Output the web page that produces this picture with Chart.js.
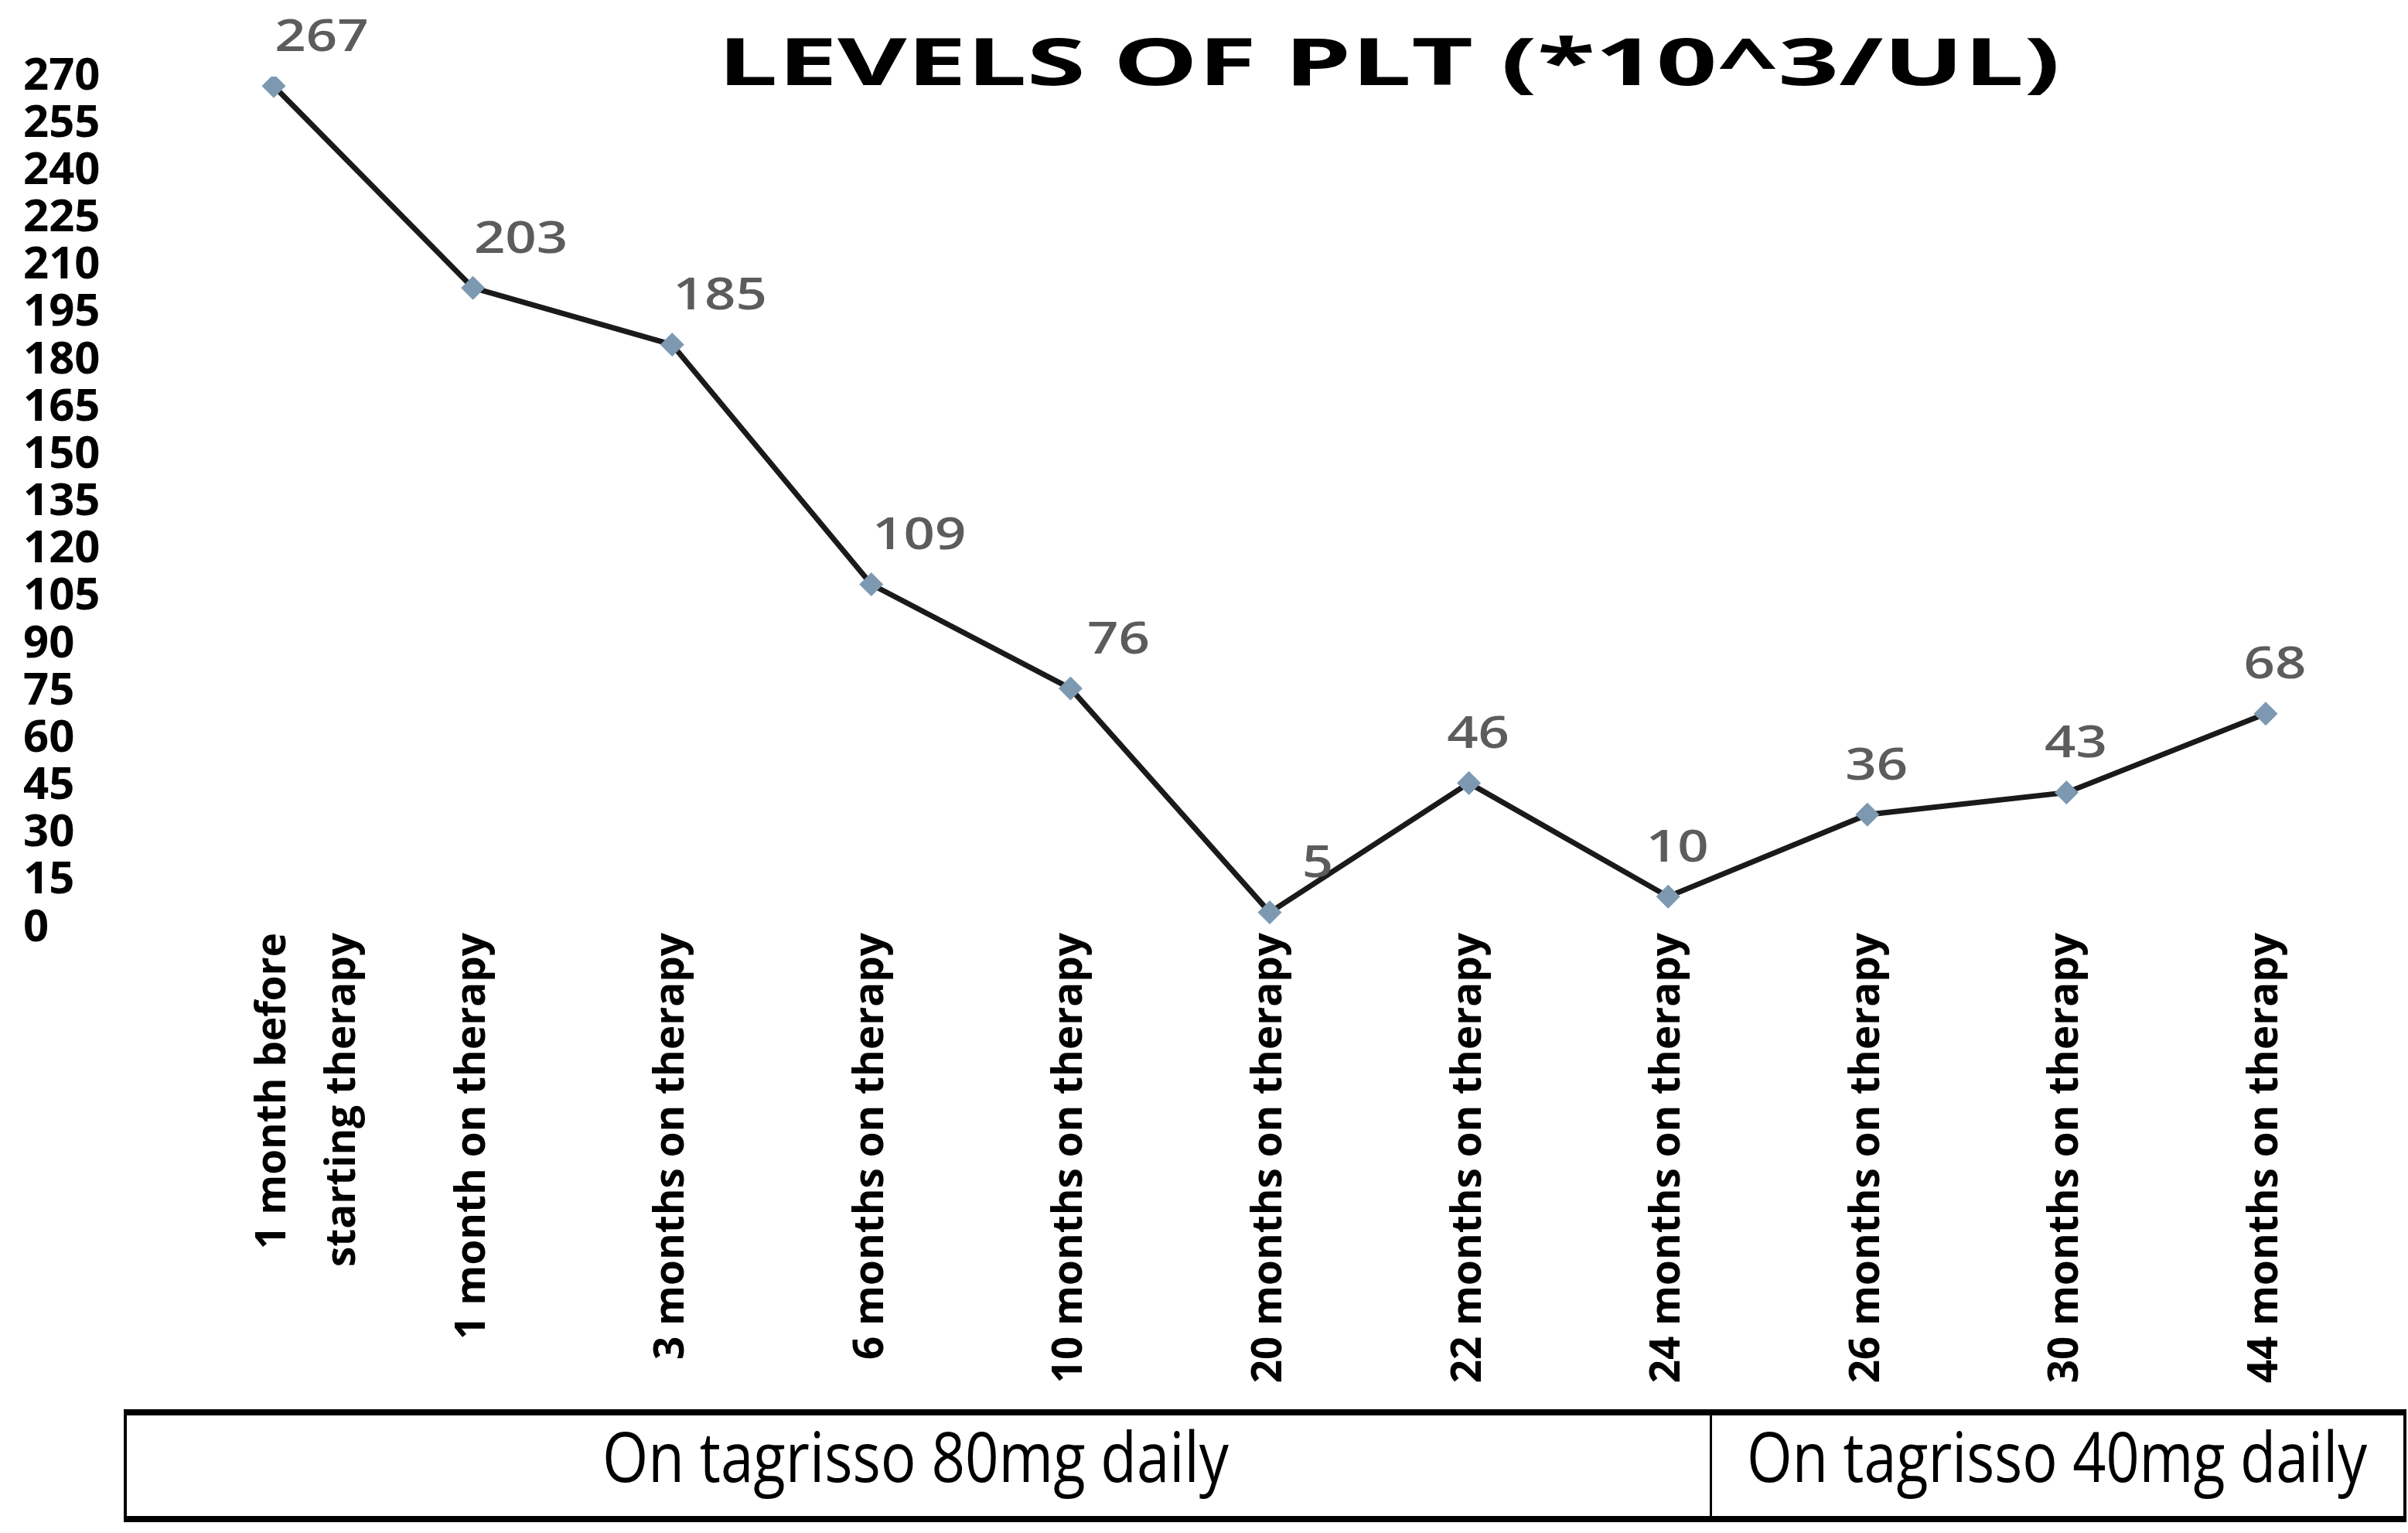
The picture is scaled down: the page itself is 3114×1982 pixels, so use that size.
<!DOCTYPE html>
<html>
<head>
<meta charset="utf-8">
<script src="https://cdn.jsdelivr.net/npm/chart.js@4.4.1/dist/chart.umd.min.js"></script>
<style>
html, body { margin: 0; padding: 0; background: #fff; }
</style>
</head>
<body>
<canvas id="pltChart" width="3114" height="1982"></canvas>
<script>
// values
var timepoints = [
  ["1 month before", "starting therapy"],
  "1 month on therapy",
  "3 months on therapy",
  "6 months on therapy",
  "10 months on therapy",
  "20 months on therapy",
  "22 months on therapy",
  "24 months on therapy",
  "26 months on therapy",
  "30 months on therapy",
  "44 months on therapy"
];
var pltValues = [267, 203, 185, 109, 76, 5, 46, 10, 36, 43, 68];
var yMin = 0;
var yMax = 270;
var yStep = 15;
var chartTitle = "LEVELS OF PLT (*10^3/UL)";
var phaseNames = ["On tagrisso 80mg daily", "On tagrisso 40mg daily"];

// draws text squeezed/stretched to a given width
function fitText(ctx, text, cx, cy, width) {
  var w = ctx.measureText(text).width;
  ctx.save();
  ctx.translate(cx, cy);
  ctx.scale(width / w, 1);
  ctx.fillText(text, 0, 0);
  ctx.restore();
}

var extras = {
  id: 'extras',
  afterDatasetsDraw: function(chart) {
    var ctx = chart.ctx;
    var meta = chart.getDatasetMeta(0);
    ctx.save();
    ctx.fillStyle = '#5c5c5c';
    ctx.font = '600 58px "Open Sans"';
    ctx.textAlign = 'center';
    ctx.textBaseline = 'middle';
    meta.data.forEach(function(pt, i) {
      var dx = i <= 5 ? 62 : 12;
      var txt = String(pltValues[i]);
      fitText(ctx, txt, pt.x + dx, pt.y - 62, ctx.measureText(txt).width * 1.22);
    });
    ctx.restore();
  },
  afterDraw: function(chart) {
    var ctx = chart.ctx;
    ctx.save();
    // title
    ctx.fillStyle = '#000';
    ctx.textAlign = 'center';
    ctx.textBaseline = 'middle';
    ctx.font = 'bold 84px "Open Sans"';
    fitText(ctx, chartTitle, 1796, 86, 1736);

    // phase box under the axis
    ctx.fillRect(160, 1822, 2952, 8);
    ctx.fillRect(160, 1960, 2952, 8);
    ctx.fillRect(160, 1822, 4, 146);
    ctx.fillRect(3108, 1822, 4, 146);
    ctx.fillRect(2211, 1822, 3, 146);
    ctx.font = '90px "Open Sans"';
    fitText(ctx, phaseNames[0], 1184, 1890, 810);
    fitText(ctx, phaseNames[1], 2660, 1890, 802);
    ctx.restore();
  }
};

var chart = new Chart(document.getElementById('pltChart'), {
  type: 'line',
  data: {
    labels: timepoints,
    datasets: [{
      label: 'PLT',
      data: pltValues,
      borderColor: '#1a1a1a',
      borderWidth: 7,
      tension: 0,
      fill: false,
      pointStyle: 'rectRot',
      pointRadius: 15,
      pointBackgroundColor: '#7d99b1',
      pointBorderColor: '#7d99b1',
      pointBorderWidth: 1
    }]
  },
  options: {
    responsive: false,
    animation: false,
    layout: { padding: { left: 30, top: 99, right: 184, bottom: 0 } },
    plugins: {
      legend: { display: false },
      title: { display: false },
      tooltip: { enabled: false }
    },
    scales: {
      x: {
        offset: false,
        grid: { display: false, drawTicks: false },
        border: { display: false },
        ticks: {
          autoSkip: false,
          minRotation: 90,
          maxRotation: 90,
          padding: 6,
          color: '#000',
          font: { family: 'Open Sans', weight: 'bold', size: 53, lineHeight: 1.7 }
        },
        afterFit: function(axis) { axis.height = 782; }
      },
      y: {
        min: yMin,
        max: yMax,
        grid: { display: false, drawTicks: false },
        border: { display: false },
        ticks: {
          stepSize: yStep,
          autoSkip: false,
          crossAlign: 'far',
          color: '#000',
          font: { family: 'Open Sans', weight: 'bold', size: 58 }
        },
        afterFit: function(axis) { axis.width = 324; }
      }
    }
  },
  plugins: [extras]
});
</script>
</body>
</html>
